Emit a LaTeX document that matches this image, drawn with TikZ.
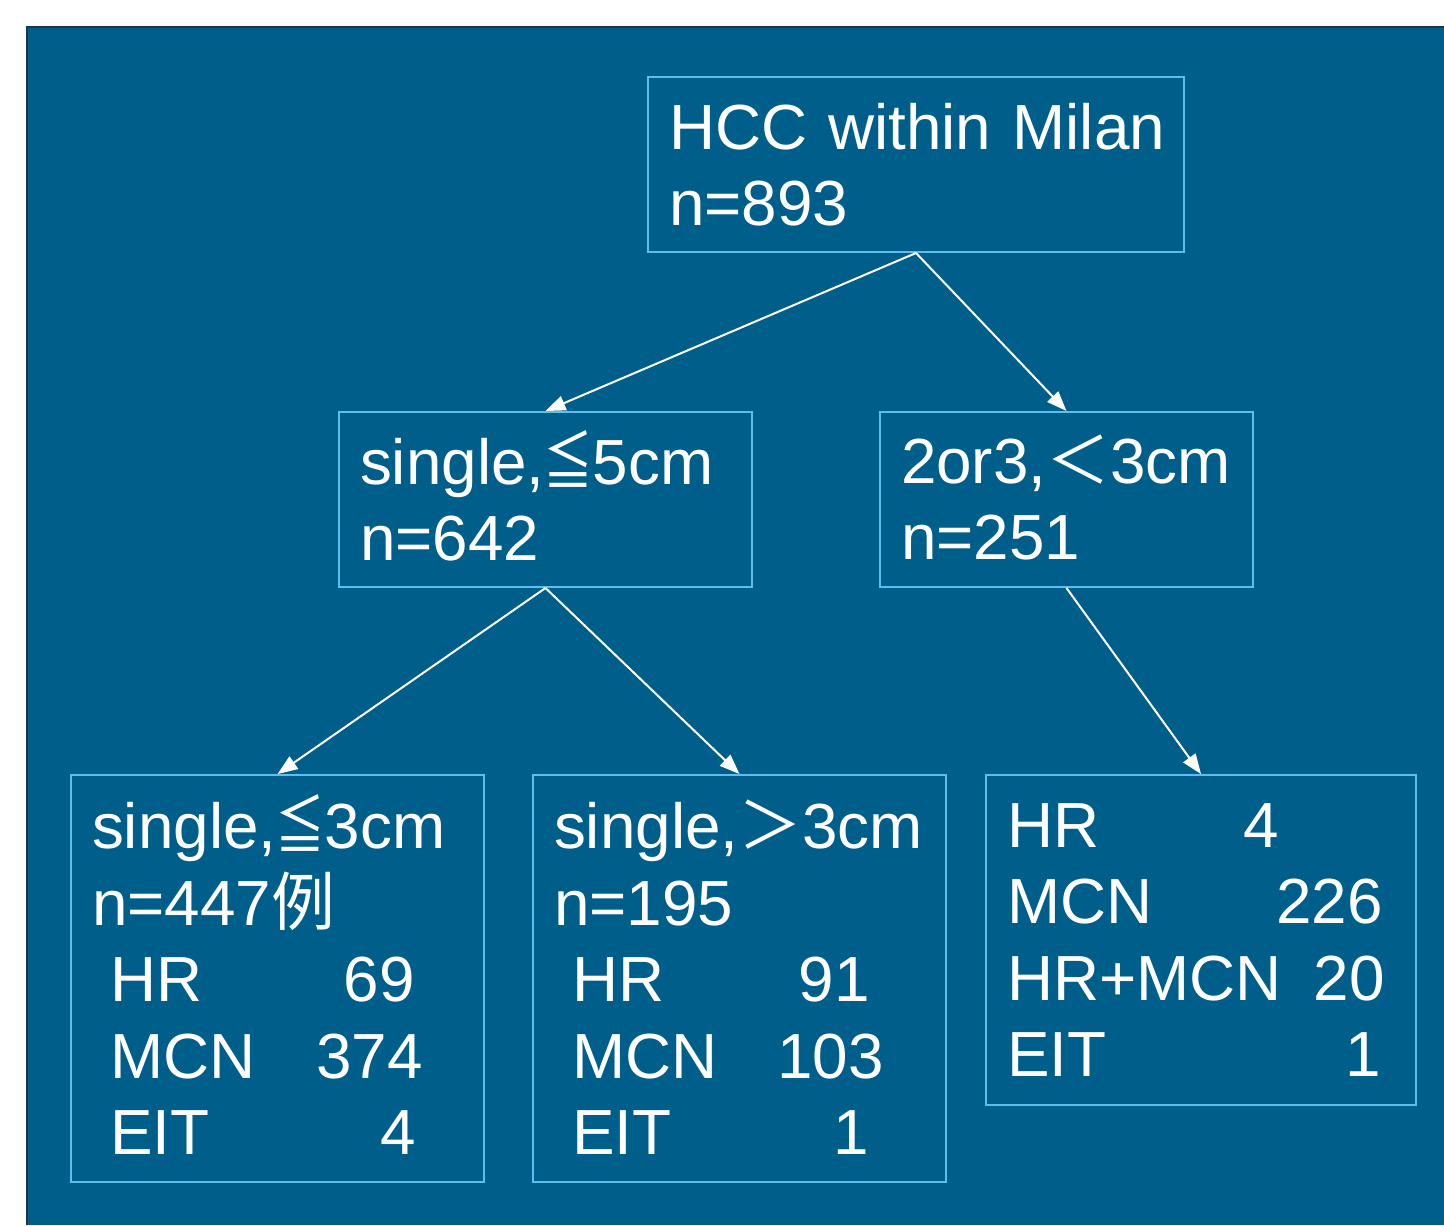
\documentclass[tikz,border=0pt]{standalone}
\usepackage{fontspec}
\setmainfont{Liberation Sans}
\newfontfamily\cjk{Noto Sans CJK SC}
\usepackage{tikz}
\usetikzlibrary{arrows.meta}

\definecolor{bgblue}{RGB}{0,94,138}
\definecolor{boxline}{RGB}{95,190,240}
\definecolor{rimdark}{RGB}{25,55,80}

% full-width sign from the CJK font, squeezed into a box
\newcommand{\cjksym}[2][1em]{\makebox[#1]{\smash{\cjk #2}}}
\newcommand{\narrowle}{\makebox[0.76em]{\smash{\scalebox{0.78}[1]{\cjk ≦}}}}
% one row of a count table: [indent]{width}{label}{number}
\newcommand{\tabrow}[4][0cm]{\hspace*{#1}\makebox[#2][l]{#3\hfill #4}}

\begin{document}
\begin{tikzpicture}[x=0.02cm, y=-0.02cm,
    box/.style={draw=boxline, line width=0.04cm, text=white, align=left,
        inner xsep=0.42cm, inner ysep=0pt, font=\fontsize{36.3}{43.5}\selectfont},
    link/.style={draw=white, line width=0.04cm, -{Triangle[length=0.4cm,width=0.3cm]}}]
    \useasboundingbox (0,0) rectangle (1444,1225);

    % slide background
    \fill[bgblue] (27,27) rectangle (1444,1225);
    \draw[rimdark, line width=0.05cm] (27,1225) -- (27,27) -- (1444,27);

    % top level
    \node[box, text width=9.88cm, minimum height=3.5cm] (root) at (916,164.5) {\mbox{HCC within Milan}\\n=893};

    % second level
    \node[box, text width=7.42cm, minimum height=3.5cm] (single5) at (545.5,499.5) {single,\narrowle 5cm\\n=642};
    \node[box, text width=6.62cm, minimum height=3.5cm] (multi3) at (1066.5,499.5) {2or3,\cjksym{＜}3cm\\n=251};

    % third level with treatment counts
    \node[box, text width=7.42cm, minimum height=8.14cm] (small3) at (277.5,978.5) {single,\narrowle 3cm\\n=447{\cjk 例}\\
        \tabrow[0.36cm]{6.10cm}{HR}{69}\\
        \tabrow[0.36cm]{6.26cm}{MCN}{374}\\
        \tabrow[0.36cm]{6.12cm}{EIT}{4}};
    \node[box, text width=7.42cm, minimum height=8.14cm] (large3) at (739.5,978.5) {single,\cjksym{＞}3cm\\n=195\\
        \tabrow[0.36cm]{5.96cm}{HR}{91}\\
        \tabrow[0.36cm]{6.24cm}{MCN}{103}\\
        \tabrow[0.36cm]{5.94cm}{EIT}{1}};
    \node[box, text width=7.76cm, minimum height=6.6cm] (multitx) at (1201,940) {\tabrow{5.44cm}{HR}{4}\\
        \tabrow{7.52cm}{MCN}{226}\\
        \tabrow{7.56cm}{HR+MCN}{20}\\
        \tabrow{7.48cm}{EIT}{1}};

    % connectors
    \draw[link] (root.south) -- (single5.north);
    \draw[link] (root.south) -- (multi3.north);
    \draw[link] (single5.south) -- (small3.north);
    \draw[link] (single5.south) -- (large3.north);
    \draw[link] (multi3.south) -- (multitx.north);
\end{tikzpicture}
\end{document}
